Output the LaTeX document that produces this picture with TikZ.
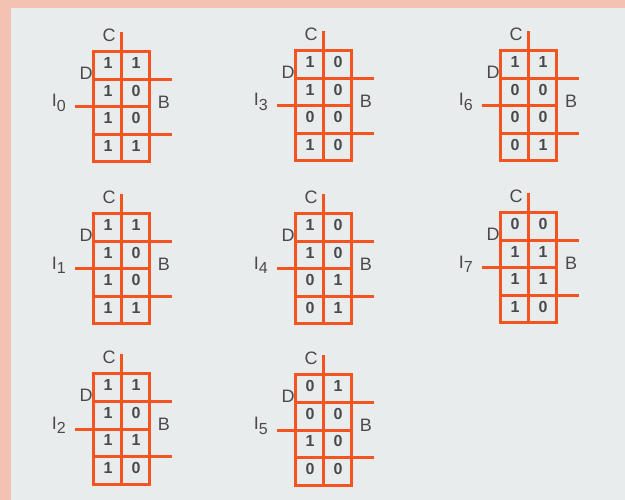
\documentclass[tikz,border=0pt]{standalone}
\usepackage{fontspec}
\setmainfont{Liberation Sans}
\definecolor{bgc}{HTML}{E8ECED}
\definecolor{pinkb}{HTML}{F3C2B3}
\definecolor{kor}{HTML}{F4541F}
\definecolor{txt}{HTML}{4A4A4A}
\tikzset{
  kline/.style={draw=kor,line width=3pt},
  lbl/.style={text=txt,font=\fontsize{18}{18}\selectfont,inner sep=0pt},
  digit/.style={text=txt,font=\fontsize{16}{16}\selectfont\bfseries,inner sep=0pt}
}
% #1 x0, #2 y0, #3 index, #4 rows a/b,...
\newcommand\kmapgrid[4]{%
  \draw[kline] (#1,#2) rectangle ({#1+56},{#2+110});
  \draw[kline] ({#1+28},{#2-20}) -- ({#1+28},{#2+110});
  \draw[kline] (#1,{#2+27.5}) -- ({#1+79},{#2+27.5});
  \draw[kline] ({#1-18},{#2+55}) -- ({#1+56},{#2+55});
  \draw[kline] (#1,{#2+82.5}) -- ({#1+79},{#2+82.5});
  \node[lbl] (c#3) at ({#1+16},{#2-17}) {C};
  \node[lbl] (d#3) at ({#1-7},{#2+21}) {D};
  \node[lbl] (b#3) at ({#1+71},{#2+50}) {B};
  \node[lbl,anchor=east] (i#3) at ({#1-27},{#2+51}) {I\raisebox{-0.45ex}{\fontsize{16}{16}\selectfont #3}};
  \foreach \a/\b [count=\r] in {#4}{
    \node[digit] at ({#1+15},{#2+11+27.5*(\r-1)}) {\a};
    \node[digit] at ({#1+43},{#2+11+27.5*(\r-1)}) {\b};
  }
}
\begin{document}
\begin{tikzpicture}[x=1pt,y=-1pt]
\fill[pinkb] (0,0) rectangle (625,500);
\fill[bgc] (11,8) rectangle (625,500);
\useasboundingbox (0,0) rectangle (625,500);
\kmapgrid{93}{52}{0}{1/1,1/0,1/0,1/1}
\kmapgrid{295}{51}{3}{1/0,1/0,0/0,1/0}
\kmapgrid{500}{51}{6}{1/1,0/0,0/0,0/1}
\kmapgrid{93}{214}{1}{1/1,1/0,1/0,1/1}
\kmapgrid{295}{214}{4}{1/0,1/0,0/1,0/1}
\kmapgrid{500}{213}{7}{0/0,1/1,1/1,1/0}
\kmapgrid{93}{374}{2}{1/1,1/0,1/1,1/0}
\kmapgrid{295}{375}{5}{0/1,0/0,1/0,0/0}
\end{tikzpicture}
\end{document}
